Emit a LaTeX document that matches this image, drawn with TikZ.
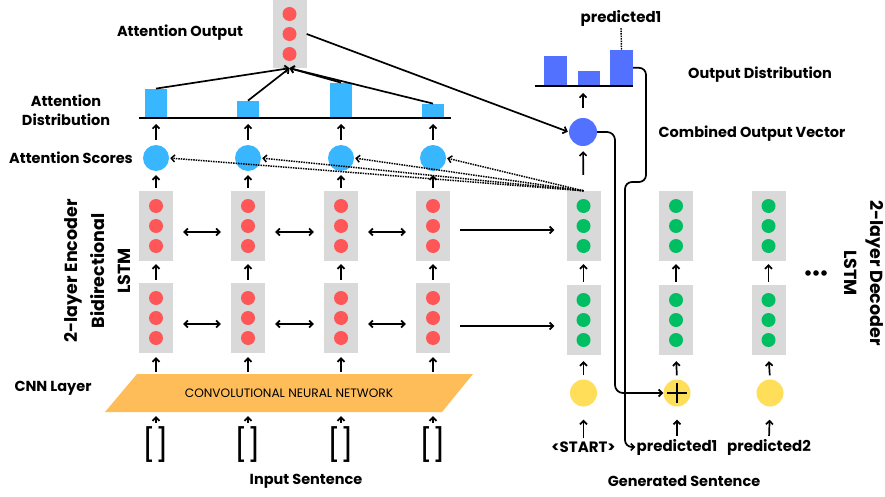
\documentclass[tikz,border=0pt]{standalone}
\usepackage{fontspec}
\setmainfont{Poppins}
\usepackage{tikz}
\usetikzlibrary{shapes.geometric,arrows.meta,positioning,calc}

\definecolor{cellgray}{HTML}{D9D9D9}
\definecolor{encred}{HTML}{FF5757}
\definecolor{decgreen}{HTML}{00BF63}
\definecolor{scoreblue}{HTML}{38B6FF}
\definecolor{outblue}{HTML}{5271FF}
\definecolor{cnnorange}{HTML}{FFBD59}
\definecolor{embyellow}{HTML}{FFDE59}

\begin{document}
\begin{tikzpicture}[
    x=1pt, y=-1pt,
    cell/.style={rectangle, fill=cellgray, minimum width=34pt, minimum height=70pt, inner sep=0pt},
    reddot/.style={circle, fill=encred, minimum size=14pt, inner sep=0pt},
    greendot/.style={circle, fill=decgreen, minimum size=14pt, inner sep=0pt},
    score/.style={circle, fill=scoreblue, minimum size=26pt, inner sep=0pt},
    embed/.style={circle, fill=embyellow, minimum size=27pt, inner sep=0pt},
    bar/.style={rectangle, fill=#1, minimum width=22pt, inner sep=0pt, anchor=south},
    arrow/.style={-{Straight Barb[length=3.5pt,width=7pt]}, line width=1.7pt},
    biarrow/.style={{Straight Barb[length=3.5pt,width=7pt]}-{Straight Barb[length=3.5pt,width=7pt]}, line width=1.7pt},
    dotarrow/.style={-{Straight Barb[length=3.5pt,width=7pt]}, line width=1.5pt, dash pattern=on 1.5pt off 1pt},
    lbl/.style={font=\bfseries\fontsize{14.5}{19}\selectfont, align=center},
    biglbl/.style={font=\bfseries\fontsize{17.5}{26.5}\selectfont, align=center},
    tok/.style={font=\bfseries\fontsize{15}{17}\selectfont, inner sep=1pt}
]
    \useasboundingbox (0,0) rectangle (885,497);
    \fill[white] (0,0) rectangle (885,497);

    % encoder columns
    \foreach \i/\x/\h in {1/156/29,2/248/17,3/341/35,4/433/14} {
        \node[cell] (eu\i) at (\x,226) {};
        \node[cell] (el\i) at (\x,318) {};
        \foreach \k/\d in {1/-20,2/0,3/20} {
            \node[reddot] (eu\i-\k) at ($(eu\i)+(0,\d)$) {};
            \node[reddot] (el\i-\k) at ($(el\i)+(0,\d)$) {};
        }
        \node[score] (sc\i) at (\x,158) {};
        \node[bar=scoreblue, minimum height=\h pt] (ab\i) at (\x,118) {};
        \node[font=\fontsize{32}{32}\selectfont, minimum height=30pt, inner sep=0pt] (in\i) at (\x,445) {[\kern-1pt]};

        \draw[arrow, shorten <=3pt, shorten >=3pt] (el\i.north) -- (eu\i.south);
        \draw[arrow, shorten <=3pt, shorten >=4pt] (eu\i.north) -- (sc\i.south);
        \draw[arrow, shorten <=5pt, shorten >=6pt] (sc\i.north) -- (ab\i.south);
    }

    % attention distribution axis
    \coordinate (adl) at (139,118);
    \coordinate (adr) at (451,118);
    \draw[line width=1.6pt] (adl) -- (adr);

    % forward/backward links
    \foreach \i/\j in {1/2,2/3,3/4} {
        \draw[biarrow, shorten <=10pt, shorten >=10pt] ([yshift=-6pt]eu\i.east) -- ([yshift=-6pt]eu\j.west);
        \draw[biarrow, shorten <=10pt, shorten >=10pt] ([yshift=-6pt]el\i.east) -- ([yshift=-6pt]el\j.west);
    }

    % CNN layer
    \fill[cnnorange] (137,374) -- (473,374) -- (442,412) -- (105,412) -- cycle;
    \node[minimum width=300pt, minimum height=38pt, font=\fontsize{12.2}{14}\selectfont] (cnn) at (289,393) {CONVOLUTIONAL NEURAL NETWORK};
    \foreach \i in {1,...,4} {
        \draw[arrow, shorten <=2pt, shorten >=4pt] (cnn.north -| el\i) -- (el\i.south);
        \draw[arrow, shorten <=4pt, shorten >=4pt] (in\i.north) -- (cnn.south -| in\i);
    }

    % attention output
    \node[cell, minimum height=68pt] (ao) at (289.5,34) {};
    \foreach \k/\d in {1/-20,2/0,3/20}
        \node[reddot] (ao-\k) at ($(ao)+(0,\d)$) {};
    \foreach \i in {1,...,4}
        \draw[arrow] (ab\i.north) -- (ao.south);

    % decoder columns
    \foreach \i/\x in {1/583.5,2/676,3/768.5} {
        \node[cell] (du\i) at (\x,226) {};
        \node[cell] (dl\i) at (\x,320) {};
        \foreach \k/\d in {1/-20,2/0,3/20} {
            \node[greendot] (du\i-\k) at ($(du\i)+(0,\d)$) {};
            \node[greendot] (dl\i-\k) at ($(dl\i)+(0,\d)$) {};
        }
        \draw[arrow, shorten <=3pt, shorten >=3pt] (dl\i.north) -- (du\i.south);
    }
    \foreach \k in {0,1,2}
        \fill (808+8*\k,273) circle (2.8pt);

    % decoder inputs
    \node[embed] (ye1) at (583.5,393) {};
    \node[embed] (ye2) at (677,393) {};
    \node[embed] (ye3) at (770,393) {};
    \draw[line width=1.1pt] ($(ye2)+(-10,0)$) -- ($(ye2)+(10,0)$);
    \draw[line width=1.1pt] ($(ye2)+(0,-10)$) -- ($(ye2)+(0,10)$);
    \node[tok] (t1) at (583.5,447) {<START>};
    \node[tok] (t2) at (677,447) {predicted1};
    \node[tok] (t3) at (769,447) {predicted2};
    \foreach \i in {1,2,3} {
        \draw[arrow, shorten <=4pt, shorten >=6pt] (ye\i.north) -- (dl\i.south);
        \draw[arrow, shorten <=2pt, shorten >=13pt] (t\i.north) -- (ye\i.south);
    }

    % encoder to decoder
    \draw[arrow, shorten <=10pt, shorten >=12pt] ([yshift=-4pt]eu4.east) -- ([yshift=-4pt]eu4.east -| du1.west);
    \draw[arrow, shorten <=10pt, shorten >=12pt] ([yshift=-8pt]el4.east) -- ([yshift=-8pt]el4.east -| dl1.west);

    % attention queries
    \foreach \i in {1,...,4}
        \draw[dotarrow, shorten >=1pt] (du1.north) -- (sc\i.east);

    % combined output and output distribution
    \node[circle, fill=outblue, minimum size=28pt, inner sep=0pt] (comb) at (583,132) {};
    \draw[arrow, shorten >=1pt] (ao.east) -- (comb.west);
    \draw[arrow, shorten <=16pt, shorten >=5pt] (du1.north) -- (comb.south);
    \coordinate (odl) at (535,86);
    \coordinate (odr) at (633,86);
    \node[bar=outblue, minimum width=23pt, minimum height=30pt] (ob1) at (555.5,86) {};
    \node[bar=outblue, minimum height=15pt] (ob2) at (589,86) {};
    \node[bar=outblue, minimum width=23pt, minimum height=36pt] (ob3) at (621.5,86) {};
    \draw[line width=1.6pt] (odl) -- (odr);
    \draw[arrow, shorten <=10pt, shorten >=7pt] (comb.north) -- (comb.north |- odl);
    \node[tok] (pr) at (621,18) {predicted1};
    \draw[line width=1.4pt, dash pattern=on 1.5pt off 1pt] (ob3.north) -- (pr.south);

    % feedback paths
    \draw[arrow, rounded corners=8pt] (comb.east) -| (615,393) -- (ye2.west);
    \draw[arrow, rounded corners=7pt] (ob3.east) -| (646,182) -| (625,447) -- (t2.west);

    % labels
    \node[lbl] (lao) at (180,33) {Attention Output};
    \node[lbl] (lad) at (66,110) {Attention\\Distribution};
    \node[lbl] (las) at (71,158) {Attention Scores};
    \node[lbl] (lcnn) at (53,388) {CNN Layer};
    \node[lbl] (lin) at (306,481) {Input Sentence};
    \node[lbl] (lgen) at (684,481) {Generated Sentence};
    \node[lbl] (lod) at (760,75) {Output Distribution};
    \node[lbl] (lcov) at (752,134) {Combined Output Vector};
    \node[biglbl, rotate=90] (lenc) at (98,271) {2-layer Encoder\\Bidirectional\\LSTM};
    \node[biglbl, rotate=-90] (ldec) at (864,273) {2-layer Decoder\\LSTM};
\end{tikzpicture}
\end{document}
